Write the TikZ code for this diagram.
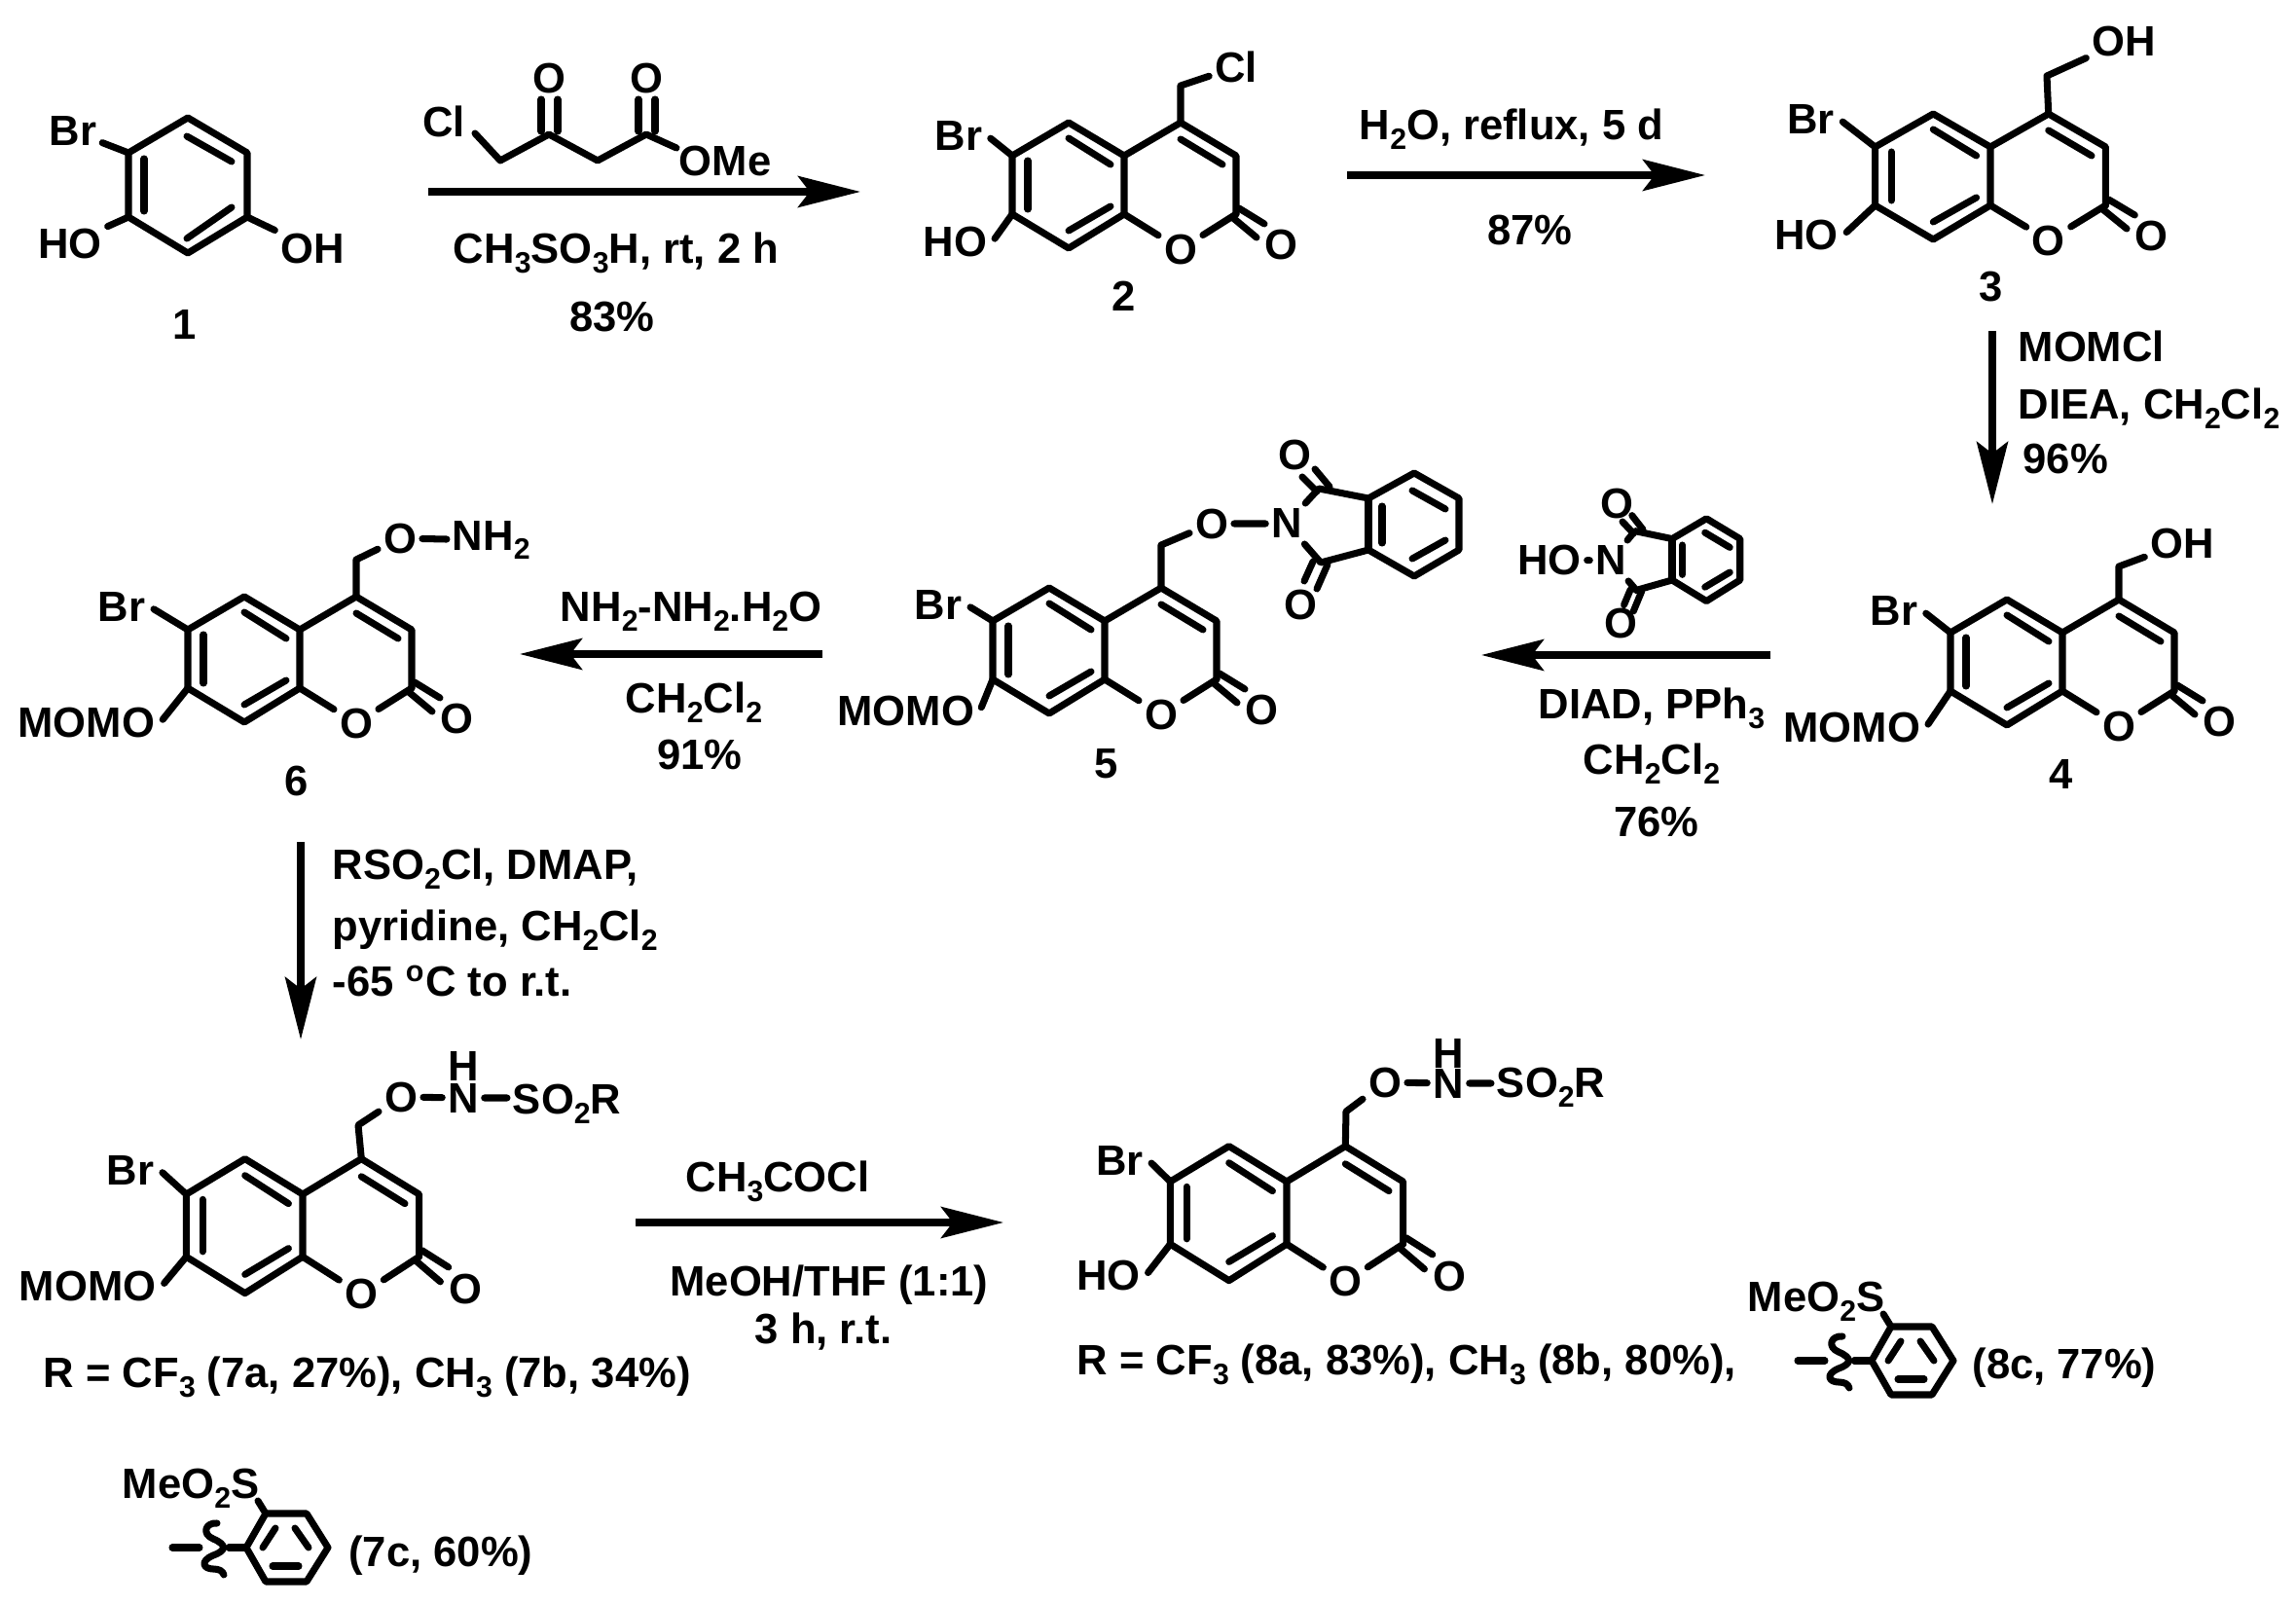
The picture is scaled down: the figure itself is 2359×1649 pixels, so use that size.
\documentclass[tikz,border=0pt]{standalone}
\usepackage{fontspec}
\setmainfont{Liberation Sans}
\usetikzlibrary{arrows.meta,calc}
\tikzset{
	bond/.style={line width=2pt, line cap=round, line join=round},
	rxn/.style={line width=2pt, -{Stealth[length=6.4mm, width=3.2mm, inset=1.2mm]}},
	atom/.style={font=\fontsize{12.4}{12.4}\selectfont\bfseries, inner sep=1.5pt},
	txt/.style={font=\fontsize{12.4}{12.4}\selectfont\bfseries, inner sep=0pt}
}
\newcommand{\lo}[1]{\raisebox{-2.8pt}{\fontsize{8.6}{8.6}\selectfont #1}}
% prefix, x, y, xscale, yscale, left label, its place, place of Br
\newcommand{\coumarin}[8]{
	\begin{scope}[shift={(#2,#3)}, xscale=#4, yscale=#5]
		\coordinate (#1a) at (0,0);
		\coordinate (#1b) at (-57,-34);
		\coordinate (#1c) at (-115,0);
		\coordinate (#1d) at (-115,60);
		\coordinate (#1e) at (-57,95);
		\coordinate (#1f) at (0,60);
		\coordinate (#1g) at (115,60);
		\coordinate (#1h) at (115,0);
		\coordinate (#1i) at (58,-34);
		\node[atom] (#1O) at (58,96) {O};
		\node[atom] (#1Ox) at (161,91) {O};
		\node[atom, anchor=east] (#1X) at (#7) {#6};
		\node[atom, anchor=east] (#1Br) at (#8) {Br};
		\draw[bond] (#1a) -- (#1b) -- (#1c) -- (#1d) -- (#1e) -- (#1f) -- cycle;
		\draw[bond] (#1a) -- (#1i) -- (#1h) -- (#1g);
		\draw[bond] (#1f) -- (#1O) -- (#1g);
		\draw[bond] (-57,-18) -- (-14,9);
		\draw[bond] (-99,5) -- (-99,55);
		\draw[bond] (-57,77) -- (-14,52);
		\draw[bond] (58,-17) -- (101,9);
		\draw[bond] (118,54) -- (144,70);
		\draw[bond] (112,64) -- (136,84);
		\draw[bond, shorten >=1pt] (#1c) -- (#1Br.east);
		\draw[bond, shorten >=1pt] (#1d) -- (#1X.east);
	\end{scope}
}
% prefix, x and y of the N, xscale, yscale
\newcommand{\phthalimide}[5]{
	\begin{scope}[shift={(#2,#3)}, xscale=#4, yscale=#5]
		\coordinate (#1p) at (33,-38);
		\coordinate (#1q) at (35,38);
		\coordinate (#1r) at (84,-28);
		\coordinate (#1s) at (131,-54);
		\coordinate (#1t) at (177,-28);
		\coordinate (#1u) at (177,25);
		\coordinate (#1v) at (131,52);
		\coordinate (#1w) at (84,25);
		\node[atom] (#1Oa) at (8,-73) {O};
		\node[atom] (#1Ob) at (14,81) {O};
		\draw[bond] (#1N) -- (#1p) -- (#1r) -- (#1s) -- (#1t) -- (#1u) -- (#1v) -- (#1w) -- (#1q) -- (#1N);
		\draw[bond] (#1r) -- (#1w);
		\draw[bond] (98,-20) -- (98,18);
		\draw[bond] (129,-36) -- (163,-17);
		\draw[bond] (129,34) -- (163,15);
		\draw[bond] (16,-50) -- (31,-35);
		\draw[bond] (29,-58) -- (44,-40);
		\draw[bond] (18,57) -- (27,37);
		\draw[bond] (31,65) -- (42,40);
	\end{scope}
}
% prefix, centre of the ring
\newcommand{\arylgroup}[3]{
	\begin{scope}[shift={(#2,#3)}]
		\coordinate (#1a) at (-22,-35);
		\coordinate (#1b) at (20,-35);
		\coordinate (#1c) at (42,0);
		\coordinate (#1d) at (20,35);
		\coordinate (#1e) at (-22,35);
		\coordinate (#1f) at (-42,0);
		\coordinate (#1g) at (-60,0);
		\coordinate (#1h) at (-30,-48);
		\coordinate (#1i) at (-118,0);
		\coordinate (#1j) at (-90,0);
		\node[txt] (#1S) at (-99,-61) {MeO\lo{2}S};
		\draw[bond] (#1a) -- (#1b) -- (#1c) -- (#1d) -- (#1e) -- (#1f) -- cycle;
		\draw[bond] (#1a) -- (#1h);
		\draw[bond] (#1f) -- (#1g);
		\draw[bond] (#1i) -- (#1j);
		\draw[bond] (-25,0) -- (-12,-20);
		\draw[bond] (22,0) -- (8,-20);
		\draw[bond] (-15,19) -- (12,19);
		\draw[bond] (-72,-25) .. controls (-84,-26) and (-88,-14) .. (-76,-9) .. controls (-62,-3) and (-62,3) .. (-76,8) .. controls (-90,14) and (-86,22) .. (-76,22) .. controls (-70,22) and (-66,24) .. (-65,28);
	\end{scope}
}

\begin{document}
\begin{tikzpicture}[x=0.01cm, y=-0.01cm]
	\useasboundingbox (0,0) rectangle (2359,1649);
	
	% compound 1
	\coordinate (A) at (132,157);
	\coordinate (B) at (193,121);
	\coordinate (C) at (254,157);
	\coordinate (D) at (254,223);
	\coordinate (E) at (193,260);
	\coordinate (F) at (132,223);
	\node[atom] (oneBr) at (75,135) {Br};
	\node[atom] (oneHO) at (72,250) {HO};
	\node[atom] (oneOH) at (321,255) {OH};
	\draw[bond] (A) -- (B) -- (C) -- (D) -- (E) -- (F) -- cycle;
	\draw[bond] (148,163) -- (148,217);
	\draw[bond] (192,140) -- (238,166);
	\draw[bond] (192,245) -- (238,213);
	\draw[bond] (A) -- (oneBr);
	\draw[bond] (F) -- (oneHO);
	\draw[bond] (D) -- (oneOH);
	\node[txt] (one) at (190,334) {1};
	
	% chloro keto ester
	\node[atom] (estCl) at (456,125) {Cl};
	\node[atom] (estOa) at (564,80) {O};
	\node[atom] (estOb) at (664,80) {O};
	\node[atom] (estOMe) at (745,165) {OMe};
	\coordinate (G) at (488,137);
	\coordinate (H) at (514,165);
	\coordinate (I) at (564,138);
	\coordinate (J) at (614,165);
	\coordinate (K) at (664,138);
	\coordinate (L) at (695,152);
	\draw[bond] (G) -- (H) -- (I) -- (J) -- (K) -- (L);
	\draw[bond] (556,102) -- (556,135);
	\draw[bond] (573,102) -- (573,135);
	\draw[bond] (656,102) -- (656,135);
	\draw[bond] (673,102) -- (673,135);
	
	% compound 2
	\coumarin{two}{1155}{160}{1}{1}{HO}{-135,88}{-140,-20}
	\coordinate (twoCH) at (1213,88);
	\node[atom] (twoCl) at (1270,69) {Cl};
	\draw[bond] (twoi) -- (twoCH) -- (twoCl);
	\node[txt] (two) at (1155,304) {2};
	
	% compound 3
	\coumarin{thr}{2045}{151}{1.03}{1}{HO}{-146,90}{-150,-28}
	\coordinate (thrCH) at (2103,78);
	\node[atom] (thrOH) at (2182,42) {OH};
	\draw[bond] (thri) -- (thrCH) -- (thrOH);
	\node[txt] (thr) at (2046,295) {3};
	
	% compound 4
	\coumarin{fou}{2119}{650}{1}{1}{MOMO}{-140,97}{-143,-22}
	\coordinate (fouCH) at (2177,582);
	\node[atom] (fouOH) at (2242,558) {OH};
	\draw[bond] (foui) -- (fouCH) -- (fouOH);
	\node[txt] (fou) at (2118,796) {4};
	
	% compound 5
	\coumarin{fiv}{1135}{638}{1}{1}{MOMO}{-128,92}{-141,-16}
	\coordinate (fivCH) at (1193,560);
	\node[atom] (fivO) at (1245,538) {O};
	\node[atom] (fivN) at (1322,538) {N};
	\draw[bond] (fivi) -- (fivCH) -- (fivO) -- (fivN);
	\phthalimide{fiv}{1322}{540}{1}{1}
	\node[txt] (fiv) at (1137,785) {5};
	
	% N-hydroxyphthalimide
	\node[atom] (hoHO) at (1592,575) {HO};
	\node[atom] (hoN) at (1655,576) {N};
	\draw[bond] (hoHO) -- (hoN);
	\phthalimide{ho}{1655}{576}{0.75}{0.8}
	
	% compound 6
	\coumarin{six}{308}{647}{1}{1}{MOMO}{-143,95}{-153,-23}
	\coordinate (sixCH) at (366,575);
	\node[atom] (sixO) at (411,553) {O};
	\node[atom, anchor=west] (sixN) at (459,555) {NH\lo{2}};
	\draw[bond] (sixi) -- (sixCH) -- (sixO) -- (sixN);
	\node[txt] (six) at (305,802) {6};
	
	% compound 7
	\coumarin{sev}{311}{1227}{1.04}{1.07}{MOMO}{-139,88}{-141,-23}
	\coordinate (sevCH) at (368,1156);
	\node[atom] (sevO) at (412,1127) {O};
	\node[atom] (sevN) at (476,1128) {N};
	\node[atom] (sevH) at (476,1095) {H};
	\node[atom, anchor=west] (sevS) at (521,1134) {SO\lo{2}R};
	\draw[bond] (sevi) -- (sevCH) -- (sevO) -- (sevN) -- (sevS.west |- sevN);
	
	% compound 8
	\coumarin{eig}{1322}{1214}{1.04}{1.07}{HO}{-139,90}{-136,-20}
	\coordinate (eigCH) at (1383,1142);
	\node[atom] (eigO) at (1423,1112) {O};
	\node[atom] (eigN) at (1488,1113) {N};
	\node[atom] (eigH) at (1488,1082) {H};
	\node[atom, anchor=west] (eigS) at (1532,1117) {SO\lo{2}R};
	\draw[bond] (eigi) -- (eigCH) -- (eigO) -- (eigN) -- (eigS.west |- eigN);
	
	% aryl groups
	\arylgroup{ara}{295}{1590}
	\arylgroup{arb}{1965}{1398}
	
	% arrows
	\coordinate (r1a) at (440,197);
	\coordinate (r1b) at (884,197);
	\coordinate (r2a) at (1384,180);
	\coordinate (r2b) at (1752,180);
	\coordinate (r3a) at (2047,340);
	\coordinate (r3b) at (2047,518);
	\coordinate (r4a) at (1819,673);
	\coordinate (r4b) at (1522,673);
	\coordinate (r5a) at (845,672);
	\coordinate (r5b) at (534,672);
	\coordinate (r6a) at (309,865);
	\coordinate (r6b) at (309,1068);
	\coordinate (r7a) at (653,1256);
	\coordinate (r7b) at (1031,1256);
	\draw[rxn] (r1a) -- (r1b);
	\draw[rxn] (r2a) -- (r2b);
	\draw[rxn] (r3a) -- (r3b);
	\draw[rxn] (r4a) -- (r4b);
	\draw[rxn] (r5a) -- (r5b);
	\draw[rxn] (r6a) -- (r6b);
	\draw[rxn] (r7a) -- (r7b);
	
	% reagents
	\node[txt] (t1a) at (633,260) {CH\lo{3}SO\lo{3}H, rt, 2 h};
	\node[txt] (t1b) at (629,326) {83\%};
	\node[txt] (t2a) at (1553,133) {H\lo{2}O, reflux, 5 d};
	\node[txt] (t2b) at (1572,236) {87\%};
	\node[txt, anchor=west] (t3a) at (2073,356) {MOMCl};
	\node[txt, anchor=west] (t3b) at (2073,420) {DIEA, CH\lo{2}Cl\lo{2}};
	\node[txt, anchor=west] (t3c) at (2078,471) {96\%};
	\node[txt] (t4a) at (1697,728) {DIAD, PPh\lo{3}};
	\node[txt] (t4b) at (1697,785) {CH\lo{2}Cl\lo{2}};
	\node[txt] (t4c) at (1702,844) {76\%};
	\node[txt] (t5a) at (710,628) {NH\lo{2}-NH\lo{2}.H\lo{2}O};
	\node[txt] (t5b) at (713,722) {CH\lo{2}Cl\lo{2}};
	\node[txt] (t5c) at (719,775) {91\%};
	\node[txt, anchor=west] (t6a) at (341,893) {RSO\lo{2}Cl, DMAP,};
	\node[txt, anchor=west] (t6b) at (341,956) {pyridine, CH\lo{2}Cl\lo{2}};
	\node[txt, anchor=west] (t6c) at (341,1008) {-65 \textsuperscript{o}C to r.t.};
	\node[txt] (t7a) at (799,1214) {CH\lo{3}COCl};
	\node[txt] (t7b) at (852,1320) {MeOH/THF (1:1)};
	\node[txt] (t7c) at (846,1368) {3 h, r.t.};
	\node[txt, anchor=west] (r7) at (44,1415) {R = CF\lo{3} (7a, 27\%), CH\lo{3} (7b, 34\%)};
	\node[txt, anchor=west] (r8) at (1106,1402) {R = CF\lo{3} (8a, 83\%), CH\lo{3} (8b, 80\%),};
	\node[txt] (c7) at (453,1598) {(7c, 60\%)};
	\node[txt] (c8) at (2121,1405) {(8c, 77\%)};
\end{tikzpicture}
\end{document}
